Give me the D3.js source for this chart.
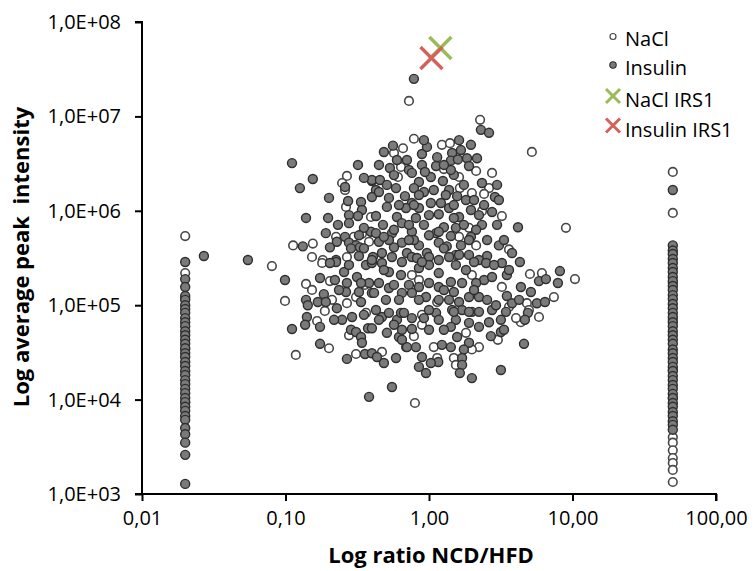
<!DOCTYPE html>
<html>
<head>
<meta charset="utf-8">
<script src="https://cdn.jsdelivr.net/npm/d3@7/dist/d3.min.js"></script>
<style>
  body { margin: 0; background: #fff; }
  text { font-family: "Open Sans", "Noto Sans", sans-serif; fill: #000; }
</style>
</head>
<body>
<svg id="chart" width="755" height="571"></svg>
<script>
// Axis ticks and labels (Excel-style comma decimals)
const xTicks = [0.01, 0.1, 1, 10, 100];
const xTickLabels = ["0,01", "0,10", "1,00", "10,00", "100,00"];
const yTicks = [1e3, 1e4, 1e5, 1e6, 1e7, 1e8];
const yTickLabels = ["1,0E+03", "1,0E+04", "1,0E+05", "1,0E+06", "1,0E+07", "1,0E+08"];
const seriesNames = ["NaCl", "Insulin", "NaCl IRS1", "Insulin IRS1"];

// [ratio NCD/HFD, average peak intensity] for the NaCl group
const naclPoints = [
  [0.268,2.34e6],[0.248,1.97e6],[0.260,1.66e6],[0.264,1.10e6],[0.394,8.6e5],[0.225,5.3e5],
  [0.300,5.3e5],[0.341,5.7e5],[0.382,4.7e5],[0.113,4.3e5],[0.155,4.5e5],[0.153,3.24e5],
  [0.182,3.01e5],[0.268,3.24e5],[0.725,1.46e7],[2.27,9.2e6],[0.785,5.8e6],[5.21,4.2e6],
  [0.570,4.1e6],[0.659,4.6e6],[1.23,5.0e6],[1.40,5.2e6],[1.27,2.77e6],[2.13,2.64e6],
  [2.75,2.52e6],[0.638,2.91e6],[0.608,2.28e6],[1.62,2.28e6],[1.64,1.74e6],[2.62,1.74e6],
  [1.99,1.54e6],[2.42,1.51e6],[2.34,9.9e5],[3.22,8.8e5],[9.00,6.6e5],[1.90,6.6e5],
  [1.62,5.3e5],[2.13,4.3e5],[3.61,3.9e5],[0.0804,2.60e5],[0.0992,1.11e5],[0.139,1.68e5],
  [0.153,1.45e5],[0.204,1.80e5],[0.188,8.7e4],[0.211,1.14e5],[0.166,6.8e4],[0.268,1.05e5],
  [0.364,8.3e4],[0.277,4.8e4],[0.201,3.5e4],[0.118,2.97e4],[0.310,3.04e4],[0.358,1.64e5],
  [0.310,1.22e5],[0.180,2.80e5],[10.4,1.89e5],[5.05,2.14e5],[6.12,2.19e5],[7.42,1.22e5],
  [4.81,1.05e5],[5.84,7.5e4],[4.37,6.6e4],[3.02,4.3e4],[2.23,3.6e4],[1.99,3.4e4],
  [1.81,5.1e4],[1.49,2.76e4],[1.54,2.33e4],[1.08,3.6e4],[1.14,2.76e4],[0.470,3.2e4],
  [0.798,9.2e3],[0.785,4.7e4],[0.893,6.2e4],[0.691,3.6e4],[0.760,2.09e5],[0.851,1.85e5],
  [1.14,1.08e5],[0.893,7.9e4],[1.99,2.09e5],[3.22,1.56e5],[3.61,9.6e4],[4.04,7.3e4],
  [4.97,8.9e4],
  // proteins only detected in HFD (ratio capped at 0.02)
  [0.02,5.4e5],[0.02,2.19e5],[0.02,1.19e5],[0.02,3.4e4],[0.02,9.4e3],
  // proteins only detected in NCD (ratio capped at 50)
  [50,2.58e6],[50,9.5e5],[50,1.72e5],[50,7.0e4],[50,2.06e4],[50,1.04e4],[50,4.0e3],
  [50,3.5e3],[50,2.9e3],[50,2.4e3],[50,2.13e3],[50,1.8e3],[50,1.34e3]
];

// [ratio NCD/HFD, average peak intensity] for the Insulin group
const insulinPoints = [
  [0.785,2.5e7],
  [0.111,3.2e6],[0.320,3.06e6],[0.155,2.17e6],[0.126,1.74e6],[0.260,1.79e6],[0.400,2.07e6],
  [0.427,1.66e6],[0.201,1.37e6],[0.273,1.27e6],[0.336,1.24e6],[0.400,1.40e6],[0.341,1.02e6],
  [0.139,8.4e5],[0.198,8.4e5],[0.277,9.0e5],[0.320,8.8e5],[0.427,8.8e5],[0.232,7.1e5],
  [0.277,7.4e5],[0.191,5.8e5],[0.260,5.3e5],[0.394,6.0e5],[0.427,5.8e5],[0.277,4.6e5],
  [0.310,4.3e5],[0.228,4.7e5],[0.132,4.2e5],[0.204,4.1e5],[0.286,4.0e5],[0.330,4.1e5],
  [0.027,3.32e5],[0.0547,3.01e5],[0.225,3.01e5],[0.407,3.24e5],[2.30,7.2e6],[2.62,6.7e6],
  [0.485,4.2e6],[0.561,4.9e6],[0.893,4.0e6],[1.14,3.7e6],[1.45,4.1e6],[1.42,3.4e6],
  [1.59,3.5e6],[1.84,3.6e6],[1.90,2.98e6],[0.534,2.84e6],[0.725,2.71e6],[0.893,3.06e6],
  [1.12,2.98e6],[0.760,2.52e6],[0.851,2.02e6],[1.03,2.28e6],[1.25,2.07e6],[0.400,2.12e6],
  [0.455,2.12e6],[2.34,1.97e6],[2.98,1.88e6],[0.448,1.58e6],[0.589,1.74e6],[0.680,1.43e6],
  [0.922,1.58e6],[1.08,1.66e6],[1.38,1.66e6],[2.88,1.40e6],[1.57,1.43e6],[1.81,1.30e6],
  [0.526,1.37e6],[0.760,1.21e6],[1.03,1.21e6],[1.21,1.21e6],[0.691,1.07e6],[0.851,1.07e6],
  [1.38,1.07e6],[1.96,1.02e6],[2.75,9.7e5],[0.598,8.6e5],[1.00,9.0e5],[1.17,9.2e5],
  [1.62,8.6e5],[2.34,7.1e5],[4.17,6.7e5],[0.478,7.1e5],[0.648,7.4e5],[0.922,7.1e5],
  [1.27,6.7e5],[1.54,6.6e5],[2.13,6.3e5],[0.552,5.8e5],[0.760,6.0e5],[1.12,5.8e5],
  [1.96,5.3e5],[0.448,4.7e5],[0.648,4.6e5],[0.851,4.3e5],[1.17,4.6e5],[1.33,4.2e5],
  [3.79,3.57e5],[0.470,3.57e5],[0.702,3.57e5],[0.968,3.57e5],[1.54,3.41e5],[2.54,3.32e5],
  [1.90,3.41e5],[0.0992,1.85e5],[0.174,1.94e5],[0.139,1.14e5],[0.143,1.0e5],[0.168,1.08e5],
  [0.185,1.31e5],[0.191,1.08e5],[0.228,9.3e4],[0.141,7.5e4],[0.137,6.2e4],[0.111,5.6e4],
  [0.174,5.9e4],[0.248,7.0e4],[0.291,7.5e4],[0.336,1.08e5],[0.286,5.5e4],[0.310,5.2e4],
  [0.376,5.7e4],[0.400,5.7e4],[0.336,4.6e4],[0.341,4.0e4],[0.174,3.9e4],[0.358,3.04e4],
  [0.268,2.70e4],[0.400,3.1e4],[0.382,1.07e4],[0.256,2.25e5],[0.268,1.72e5],[0.315,1.99e5],
  [0.364,2.67e5],[0.400,2.80e5],[0.382,1.72e5],[0.400,1.35e5],[0.336,1.72e5],[0.264,1.38e5],
  [0.225,2.87e5],[0.204,2.80e5],[4.30,2.87e5],[8.17,2.30e5],[7.91,1.72e5],[5.84,1.80e5],
  [6.53,1.89e5],[5.13,1.38e5],[4.37,1.56e5],[3.49,1.25e5],[3.79,1.05e5],[5.65,1.05e5],
  [6.43,1.08e5],[4.89,8.3e4],[4.66,7.0e4],[3.17,7.0e4],[3.44,8.5e4],[2.75,8.9e4],
  [3.17,5.2e4],[2.70,4.7e4],[4.59,3.9e4],[3.17,2.06e4],[1.90,4.0e4],[1.75,3.4e4],
  [1.70,2.76e4],[1.70,2.33e4],[1.99,1.69e4],[1.64,1.91e4],[1.42,3.6e4],[1.23,3.8e4],
  [1.16,2.50e4],[1.03,2.44e4],[0.893,2.83e4],[0.851,2.22e4],[0.953,1.91e4],[0.811,3.6e4],
  [0.702,3.6e4],[0.589,2.76e4],[0.485,2.44e4],[0.434,2.83e4],[0.552,1.36e4],[0.509,5.1e4],
  [0.618,4.6e4],[0.648,5.5e4],[0.760,5.6e4],[0.598,7.0e4],[0.470,7.5e4],[0.427,8.9e4],
  [0.400,3.01e5],[0.470,2.80e5],[0.552,3.24e5],[0.648,2.87e5],[0.760,3.24e5],[1.00,3.24e5],
  [1.17,3.01e5],[1.38,3.24e5],[1.62,3.41e5],[2.23,3.01e5],[2.50,2.80e5],[3.22,2.80e5],
  [1.54,2.67e5],[1.81,2.36e5],[2.42,1.85e5],[2.75,1.99e5],[2.13,1.72e5],[1.70,1.72e5],
  [1.42,1.76e5],[1.17,1.56e5],[1.00,1.72e5],[0.851,1.56e5],[0.725,1.64e5],[0.648,1.35e5],
  [0.526,1.52e5],[0.448,1.72e5],[0.414,1.35e5],[0.501,1.14e5],[0.618,1.14e5],[0.760,1.35e5],
  [0.953,1.22e5],[1.17,1.14e5],[1.38,1.14e5],[1.62,1.08e5],[1.90,1.22e5],[2.23,1.22e5],
  [2.54,1.14e5],[2.93,1.0e5],[1.45,8.9e4],[1.70,8.9e4],[1.99,8.5e4],[1.54,7.0e4],
  [1.90,6.5e4],[2.23,5.9e4],[1.42,5.9e4],[1.12,8.3e4],[0.922,7.3e4],[0.760,7.3e4],
  [0.638,8.3e4],[0.526,8.3e4],[0.448,7.0e4],[1.27,5.5e4],[1.57,4.6e4],[0.648,4.3e4],
  [0.618,1.15e6],[0.785,1.74e6],[1.31,1.47e6],[1.49,2.4e6],[1.75,1.88e6],[1.00,5.5e5],
  [1.42,5.4e5],[0.570,4.1e5],[0.785,4.9e5],[1.67,4.3e5],[0.526,2.25e5],[0.638,2.09e5],
  [0.851,2.48e5],[1.17,2.19e5],[1.00,8.9e4],[1.27,1.45e5],[0.570,6.3e5],[0.725,7.1e5],
  [1.75,7.1e5],[2.54,4.9e5],[3.07,4.3e5],
  [0.968,4.75e6],[1.67,4.4e6],[1.96,5.0e6],[0.702,3.45e6],[0.598,3.45e6],[0.448,3.06e6],
  [0.352,2.23e6],[0.509,1.88e6],[0.937,2.58e6],[1.42,2.71e6],[2.16,3.6e6],[2.06,1.30e6],
  [2.42,1.15e6],[1.49,8.4e5],[0.811,8.4e5],[0.509,1.10e6],[0.352,6.6e5],[0.325,3.32e5],
  [0.526,4.9e5],[0.825,3.16e5],[1.27,4.0e5],[2.98,7.1e5],[3.33,4.9e5],[2.84,2.67e5],
  [3.49,2.09e5],[2.06,1.45e5],[1.49,1.38e5],[0.851,1.14e5],[0.570,6.2e4],[1.00,5.5e4],
  [2.23,8.5e4],[0.352,7.9e4],[0.236,1.45e5],[0.218,7.0e4],[0.325,1.38e5],
  [0.570,2.39e6],[0.785,1.15e6],[1.27,3.06e6],[1.49,1.15e6],[0.485,2.36e5],[1.00,2.67e5],
  [1.90,4.9e5],[0.669,8.3e4],[1.17,7.0e4],[1.90,8.5e4],[0.277,2.67e5],[0.221,1.85e5],
  [0.325,5.5e5],[0.485,5.3e5],[0.851,1.47e6],[2.23,9.0e5],[3.07,1.30e6],[3.61,2.36e5],
  [4.24,1.14e5],[3.33,5.5e4],[2.62,6.6e4],[0.922,5.6e6],[1.62,5.6e6],[1.17,6.0e5],
  [0.893,2.87e5],[2.06,2.87e5],[0.352,4.0e5],[0.570,1.64e5],[1.49,8.5e4],[0.725,4.9e5],
  // proteins only detected in HFD (ratio capped at 0.02)
  [0.02,2.87e5],[0.02,1.89e5],[0.02,1.56e5],[0.02,1.25e5],[0.02,1.14e5],[0.02,1.0e5],
  [0.02,9.1e4],[0.02,8.3e4],[0.02,7.3e4],[0.02,6.6e4],[0.02,6.0e4],[0.02,5.3e4],
  [0.02,4.8e4],[0.02,4.3e4],[0.02,3.9e4],[0.02,3.5e4],[0.02,3.1e4],[0.02,2.83e4],
  [0.02,2.50e4],[0.02,2.27e4],[0.02,2.01e4],[0.02,1.82e4],[0.02,1.61e4],[0.02,1.46e4],
  [0.02,1.30e4],[0.02,1.17e4],[0.02,1.04e4],[0.02,9.4e3],[0.02,8.4e3],[0.02,7.6e3],
  [0.02,6.7e3],[0.02,6.1e3],[0.02,5.0e3],[0.02,4.3e3],[0.02,3.5e3],[0.02,2.6e3],
  [0.02,1.28e3],
  // proteins only detected in NCD (ratio capped at 50)
  [50,1.66e6],[50,4.3e5],[50,3.8e5],[50,3.49e5],[50,3.09e5],[50,2.80e5],[50,2.48e5],
  [50,2.25e5],[50,1.99e5],[50,1.80e5],[50,1.60e5],[50,1.45e5],[50,1.28e5],[50,1.16e5],
  [50,1.03e5],[50,9.3e4],[50,8.3e4],[50,7.5e4],[50,6.6e4],[50,6.0e4],[50,5.3e4],
  [50,4.8e4],[50,4.3e4],[50,3.9e4],[50,3.4e4],[50,3.1e4],[50,2.76e4],[50,2.50e4],
  [50,2.22e4],[50,2.01e4],[50,1.78e4],[50,1.61e4],[50,1.43e4],[50,1.30e4],[50,1.15e4],
  [50,1.04e4],[50,9.2e3],[50,8.4e3],[50,7.4e3],[50,6.7e3],[50,5.9e3],[50,5.4e3],
  [50,4.8e3]
];

// IRS1 highlighted in each group
const naclIrs1 = [[1.20, 5.3e7]];
const insulinIrs1 = [[1.04, 4.15e7]];

const colors = { nacl: "#ffffff", insulin: "#7a7a7a", naclIrs1: "#9bbb59", insulinIrs1: "#d4625b" };

const svg = d3.select("#chart");

const x = d3.scaleLog().domain([0.01, 100]).range([142, 716]);
const y = d3.scaleLog().domain([1e3, 1e8]).range([494, 22]);

// Axes
const yAxis = d3.axisLeft(y)
  .tickValues(yTicks)
  .tickFormat((d, i) => yTickLabels[i])
  .tickSize(7)
  .tickPadding(14);
const xAxis = d3.axisBottom(x)
  .tickValues(xTicks)
  .tickFormat((d, i) => xTickLabels[i])
  .tickSize(7)
  .tickPadding(10);

const gy = svg.append("g").attr("transform", "translate(142,0)").call(yAxis);
const gx = svg.append("g").attr("transform", "translate(0,494)").call(xAxis);
[gx, gy].forEach(g => {
  g.select(".domain").attr("stroke", "#000").attr("stroke-width", 2);
  g.selectAll(".tick line").attr("stroke", "#000").attr("stroke-width", 2);
  g.selectAll(".tick text").style("font-size", "20px").style("font-family", "'Open Sans', sans-serif").attr("fill", "#000");
});
gy.select(".domain").attr("d", "M-7,494H0V22H-7");
gx.select(".domain").attr("d", "M142,0V0H716V7");

// Axis titles
svg.append("text")
  .attr("x", 431).attr("y", 563)
  .attr("text-anchor", "middle")
  .style("font-size", "22px").style("font-weight", "bold")
  .text("Log ratio NCD/HFD");
svg.append("text")
  .attr("transform", "translate(29,257) rotate(-90)")
  .attr("text-anchor", "middle")
  .style("font-size", "22px").style("font-weight", "bold")
  .style("white-space", "pre")
  .text("Log average peak  intensity");

// Scatter markers
const plot = svg.append("g");
plot.selectAll("circle.nacl")
  .data(naclPoints).join("circle")
  .attr("class", "nacl")
  .attr("cx", d => x(d[0])).attr("cy", d => y(d[1]))
  .attr("r", 4.3)
  .attr("fill", colors.nacl).attr("stroke", "#474747").attr("stroke-width", 1.6);
plot.selectAll("circle.insulin")
  .data(insulinPoints).join("circle")
  .attr("class", "insulin")
  .attr("cx", d => x(d[0])).attr("cy", d => y(d[1]))
  .attr("r", 4.5)
  .attr("fill", colors.insulin).attr("stroke", "#2e2e2e").attr("stroke-width", 1.4);

function cross(g, cx, cy, h, color, w) {
  g.append("path")
    .attr("d", `M${cx - h},${cy - h}L${cx + h},${cy + h}M${cx - h},${cy + h}L${cx + h},${cy - h}`)
    .attr("stroke", color).attr("stroke-width", w).attr("fill", "none");
}
naclIrs1.forEach(d => cross(plot, x(d[0]), y(d[1]), 11, colors.naclIrs1, 3.4));
insulinIrs1.forEach(d => cross(plot, x(d[0]), y(d[1]), 11, colors.insulinIrs1, 3.4));

// Legend
const legend = svg.append("g");
const rows = [38.5, 68, 100, 129.5];
legend.append("circle").attr("cx", 613).attr("cy", rows[0] - 2).attr("r", 3)
  .attr("fill", "#fff").attr("stroke", "#474747").attr("stroke-width", 1.2);
legend.append("circle").attr("cx", 613).attr("cy", rows[1] - 3).attr("r", 3.2)
  .attr("fill", colors.insulin).attr("stroke", "#2e2e2e").attr("stroke-width", 1.1);
cross(legend, 613, rows[2] - 4, 7, colors.naclIrs1, 3);
cross(legend, 613, rows[3] - 4, 7, colors.insulinIrs1, 3);
seriesNames.forEach((name, i) => {
  legend.append("text")
    .attr("x", 625).attr("y", rows[i] + 7)
    .style("font-size", "20px")
    .text(name);
});
</script>
</body>
</html>
